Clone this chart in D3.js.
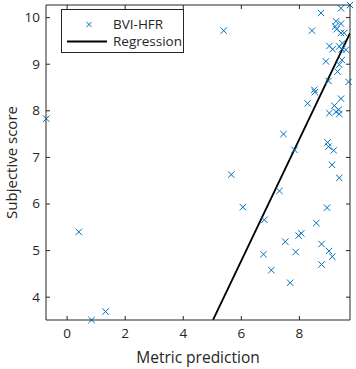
<!DOCTYPE html>
<html><head><meta charset="utf-8">
<script src="https://cdn.jsdelivr.net/npm/d3@7"></script>
<style>
html,body{margin:0;padding:0;background:#fff;}
svg text{font-family:"Open Sans","Noto Sans",sans-serif;fill:#262626;}
</style></head>
<body><svg id="c" width="356" height="369"></svg>
<script>
// Data
const metricPrediction = [-0.70,0.42,0.86,1.34,5.41,5.67,6.07,6.81,7.33,8.97,6.78,7.05,7.53,7.70,7.89,7.99,8.08,8.60,8.78,8.78,9.04,9.15,
  7.47,7.85,8.99,9.02,9.20,9.14,9.39,
  8.93,9.48,9.39,9.33,9.71,9.02,8.53,8.55,8.30,9.45,9.22,9.37,9.28,9.05,9.39,
  8.76,9.45,9.76,8.45,9.28,9.45,9.25,9.30,9.56,9.45,9.05,9.16,9.39,9.50,9.48,9.62];
const subjectiveScore = [7.82,5.39,3.50,3.68,9.71,6.62,5.92,5.65,6.27,5.91,4.91,4.57,5.18,4.30,4.96,5.31,5.36,5.58,5.13,4.69,4.98,4.86,
  7.49,7.15,7.31,7.22,7.14,6.83,6.55,
  9.05,9.08,8.98,8.83,8.61,8.63,8.44,8.39,8.15,8.25,8.10,8.01,7.97,7.94,7.92,
  10.09,10.19,10.26,9.71,9.91,9.86,9.80,9.74,9.66,9.66,9.38,9.31,9.37,9.44,9.31,9.30];
const regressionCoef = [1.305, -3.08]; // slope, intercept
const xDomain = [-0.71, 9.76];
const yDomain = [3.5, 10.26];
const xTicks = [0, 2, 4, 6, 8];
const yTicks = [4, 5, 6, 7, 8, 9, 10];
const legendLabels = ["BVI-HFR", "Regression"];
const xLabel = "Metric prediction";
const yLabel = "Subjective score";

const svg = d3.select("#c");
const L = 46, R = 350, T = 5, B = 320;
const x = d3.scaleLinear().domain(xDomain).range([L, R]);
const y = d3.scaleLinear().domain(yDomain).range([B, T]);
const axCol = "#262626";
const blue = "#0072BD";

// regression line, clipped to axes
svg.append("clipPath").attr("id","clip").append("rect")
  .attr("x",L).attr("y",T).attr("width",R-L).attr("height",B-T);
const [m, b] = regressionCoef;
const xs = [(yDomain[0]-b)/m, xDomain[1]];
svg.append("line").attr("clip-path","url(#clip)")
  .attr("x1", x(xs[0])).attr("y1", y(m*xs[0]+b))
  .attr("x2", x(xs[1])).attr("y2", y(m*xs[1]+b))
  .attr("stroke","#000").attr("stroke-width",1.8);

// markers
const pts = metricPrediction.map((v,i)=>[v, subjectiveScore[i]]);
const s = 3.2;
const g = svg.append("g");
pts.forEach(([px,py])=>{
  const cx = x(px), cy = y(py);
  g.append("path").attr("d",`M${cx-s},${cy-s}L${cx+s},${cy+s}M${cx-s},${cy+s}L${cx+s},${cy-s}`)
    .attr("stroke",blue).attr("stroke-width",1).attr("fill","none");
});

// axes
const xa = svg.append("g").attr("transform",`translate(0,${B})`)
  .call(d3.axisBottom(x).tickValues(xTicks).tickSize(-4).tickPadding(8).tickFormat(d3.format("d")));
const xt = svg.append("g").attr("transform",`translate(0,${T})`)
  .call(d3.axisTop(x).tickValues(xTicks).tickSize(-4).tickFormat(""));
const ya = svg.append("g").attr("transform",`translate(${L},0)`)
  .call(d3.axisLeft(y).tickValues(yTicks).tickSize(-4).tickPadding(6).tickFormat(d3.format("d")));
const yr = svg.append("g").attr("transform",`translate(${R},0)`)
  .call(d3.axisRight(y).tickValues(yTicks).tickSize(-4).tickFormat(""));
[xa,xt,ya,yr].forEach(a=>{
  a.selectAll("path").attr("stroke",axCol).attr("stroke-width",1);
  a.selectAll("line").attr("stroke",axCol).attr("stroke-width",1);
  a.selectAll("text").attr("font-size",13.5).attr("fill",axCol)
    .style("font-family",'"Open Sans","Noto Sans",sans-serif');
});
xa.select("path").attr("d",`M${L},0H${R}`);
xt.select("path").attr("d",`M${L},0H${R}`);
ya.select("path").attr("d",`M0,${T}V${B}`);
yr.select("path").attr("d",`M0,${T}V${B}`);

svg.append("text").attr("x",(L+R)/2).attr("y",363).attr("text-anchor","middle")
  .attr("font-size",15.5).text(xLabel);
svg.append("text").attr("transform",`translate(16.5,${(T+B)/2}) rotate(-90)`)
  .attr("text-anchor","middle").attr("font-size",15).text(yLabel);

// legend
const lg = svg.append("g");
lg.append("rect").attr("x",61.5).attr("y",9.5).attr("width",122).attr("height",43)
  .attr("fill","#fff").attr("stroke",axCol).attr("stroke-width",1);
const ls = 2.6, lx = 89, ly = 24.5;
lg.append("path").attr("d",`M${lx-ls},${ly-ls}L${lx+ls},${ly+ls}M${lx-ls},${ly+ls}L${lx+ls},${ly-ls}`)
  .attr("stroke",blue).attr("stroke-width",1);
lg.append("line").attr("x1",67).attr("x2",107).attr("y1",41.5).attr("y2",41.5)
  .attr("stroke","#000").attr("stroke-width",1.8);
lg.append("text").attr("x",113).attr("y",24.5).attr("dy","0.35em").attr("font-size",13.5).text(legendLabels[0]);
lg.append("text").attr("x",113).attr("y",41.5).attr("dy","0.35em").attr("font-size",13.5).text(legendLabels[1]);
</script></body></html>
